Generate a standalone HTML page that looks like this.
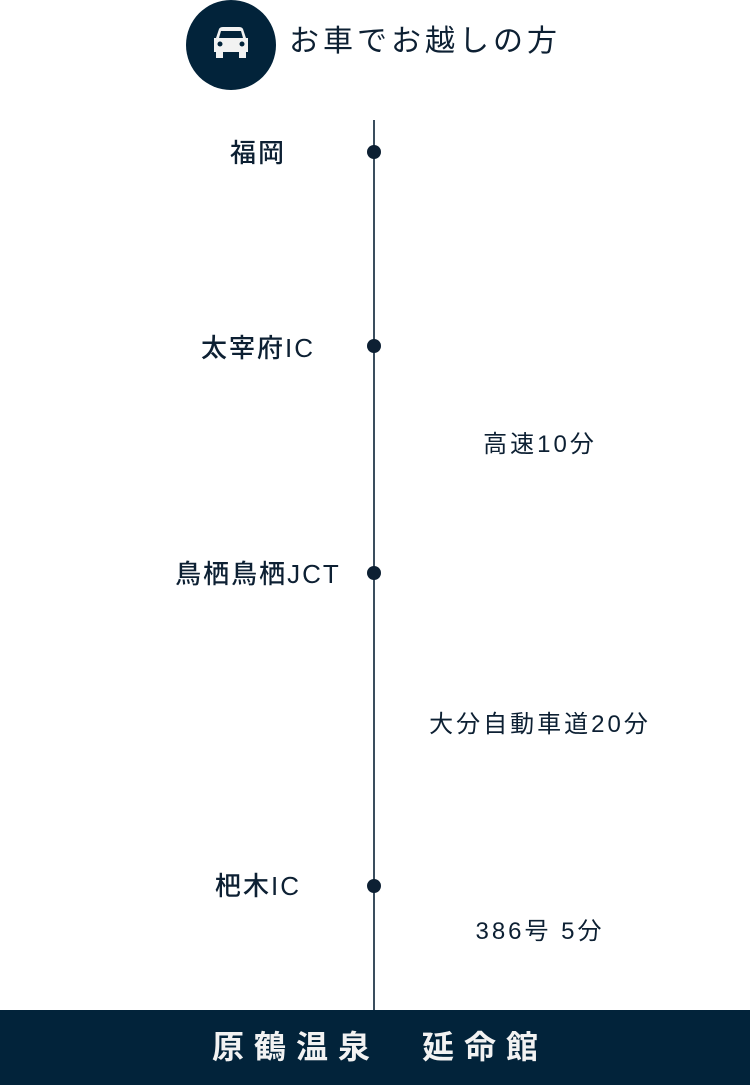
<!DOCTYPE html>
<html><head><meta charset="utf-8"><style>
body{margin:0;width:750px;height:1086px;background:#fff;position:relative;overflow:hidden;font-family:"Liberation Sans","Noto Sans CJK JP",sans-serif;color:#0d2033}
.a{position:absolute;white-space:nowrap}
.l{font-size:26px;width:240px;left:138px;text-align:center;line-height:30px;letter-spacing:2px;font-weight:500}
.r{font-size:24px;width:300px;left:390px;text-align:center;line-height:30px;letter-spacing:3px}
.dot{position:absolute;left:367px;width:14px;height:14px;border-radius:50%;background:#0d2033}
</style></head><body>
<div class="a" style="left:186px;top:0;width:90px;height:90px;border-radius:50%;background:#02233a"></div>
<svg class="a" style="left:210px;top:25px" width="42" height="36" viewBox="0 0 42 36">
<path d="M9 4 Q10 2 13 2 H29 Q32 2 33 4 L36 13 H38 V27 H4 V13 H6 Z" fill="#f2f2f2"/>
<path d="M11 6 H31 L33 13 H9 Z" fill="#02233a"/>
<rect x="6" y="27" width="7" height="6" fill="#f2f2f2"/><rect x="29" y="27" width="7" height="6" fill="#f2f2f2"/>
<circle cx="10" cy="19" r="2.5" fill="#02233a"/><circle cx="32" cy="19" r="2.5" fill="#02233a"/>
</svg>
<div class="a" style="left:289px;top:24px;font-size:30px;line-height:36px;letter-spacing:4px">お車でお越しの方</div>
<div class="a" style="left:373px;top:120px;width:2px;height:892px;background:#3a4d5e"></div>
<div class="dot" style="top:145px"></div>
<div class="dot" style="top:339px"></div>
<div class="dot" style="top:566px"></div>
<div class="dot" style="top:879px"></div>
<div class="a l" style="top:138px">福岡</div>
<div class="a l" style="top:333px">太宰府IC</div>
<div class="a l" style="top:559px">鳥栖鳥栖JCT</div>
<div class="a l" style="top:871px">杷木IC</div>
<div class="a r" style="top:430px">高速10分</div>
<div class="a r" style="top:710px">大分自動車道20分</div>
<div class="a r" style="top:917px">386号 5分</div>
<div class="a" style="left:0;top:1010px;width:750px;height:75px;background:#02233a;color:#f2f2f2;font-size:32px;font-weight:bold;line-height:75px;text-align:center;letter-spacing:10px;text-indent:10px">原鶴温泉　延命館</div>
</body></html>
